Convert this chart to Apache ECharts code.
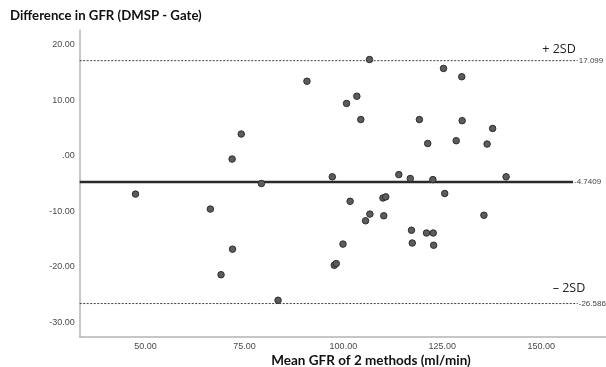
<!DOCTYPE html>
<html>
<head>
<meta charset="utf-8">
<script src="https://cdn.jsdelivr.net/npm/echarts@6/dist/echarts.min.js"></script>
<style>
html,body{margin:0;padding:0;background:#fff;overflow:hidden;}
#chart{width:630px;height:367px;}
</style>
</head>
<body>
<div id="chart"></div>
<script>
// Mean GFR of 2 methods (ml/min)
var meanGFR = [47.5, 66.4, 69.1, 71.9, 72.0, 74.2, 79.3, 83.5, 90.8, 97.2, 97.7, 98.2, 99.9, 100.8,
  101.7, 103.4, 104.4, 105.6, 106.6, 106.7, 110.0, 110.2, 110.7, 114.0, 116.9, 117.2, 117.4, 119.2,
  121.0, 121.3, 122.6, 122.7, 122.8, 125.3, 125.6, 128.5, 129.9, 130.0, 135.5, 136.3, 137.7, 141.1];
// Difference in GFR (DMSP - Gate)
var diffGFR = [-6.9, -9.6, -21.4, -0.6, -16.8, 3.9, -5.0, -26.0, 13.4, -3.8, -19.7, -19.4, -15.9, 9.4,
  -8.2, 10.7, 6.5, -11.7, 17.3, -10.5, -7.6, -10.8, -7.4, -3.4, -4.1, -13.4, -15.7, 6.5,
  -13.9, 2.2, -4.3, -13.9, -16.1, 15.7, -6.8, 2.7, 14.2, 6.3, -10.7, 2.1, 4.9, -3.8];
var meanDiff = -4.7409;
var upperLimit = 17.099;
var lowerLimit = -26.586;
var upperLabel = '17.099', meanLabel = '-4.7409', lowerLabel = '-26.586';
var xTicks = [50, 75, 100, 125, 150];
var yTicks = [-30, -20, -10, 0, 10, 20];

var xMin = 33.4, xMax = 168.86, yMin = -32.55, yMax = 22.61;
var lineStart = 33.4, dashEnd = 159.2, meanEnd = 158.0;

var pts = meanGFR.map(function (v, i) { return [v, diffGFR[i]]; });

function fmt(v) {
  if (v === 0) return '.00';
  return v.toFixed(2);
}

var chart = echarts.init(document.getElementById('chart'), null, {renderer: 'canvas'});
var refLabel = {show: true, fontSize: 8, color: '#444', fontFamily: 'Liberation Sans', distance: 1};

chart.setOption({
  animation: false,
  backgroundColor: '#fff',
  grid: {left: 79.7, right: 14, top: 30, bottom: 30.3, containLabel: false},
  xAxis: {
    type: 'value', min: xMin, max: xMax,
    splitLine: {show: false},
    axisTick: {show: false},
    axisLine: {show: true, onZero: false, lineStyle: {color: '#b4b4b4', width: 1.5}},
    axisLabel: {customValues: xTicks, formatter: fmt, fontSize: 9, color: '#4a4a4a',
      fontFamily: 'Liberation Sans', margin: 5}
  },
  yAxis: {
    type: 'value', min: yMin, max: yMax,
    splitLine: {show: false},
    axisTick: {show: false},
    axisLine: {show: true, onZero: false, lineStyle: {color: '#b4b4b4', width: 1.5}},
    axisLabel: {customValues: yTicks, formatter: fmt, fontSize: 9, color: '#4a4a4a',
      fontFamily: 'Liberation Sans', margin: 5}
  },
  series: [
    {
      type: 'line', data: [[lineStart, upperLimit], [dashEnd, upperLimit]],
      symbol: 'none', silent: true,
      lineStyle: {color: '#444', width: 1, type: [2, 1.5]},
      endLabel: Object.assign({formatter: upperLabel}, refLabel)
    },
    {
      type: 'line', data: [[lineStart, lowerLimit], [dashEnd, lowerLimit]],
      symbol: 'none', silent: true,
      lineStyle: {color: '#444', width: 1, type: [2, 1.5]},
      endLabel: Object.assign({formatter: lowerLabel}, refLabel)
    },
    {
      type: 'line', data: [[lineStart, meanDiff], [meanEnd, meanDiff]],
      symbol: 'none', silent: true,
      lineStyle: {color: '#2a2a2a', width: 2.5},
      endLabel: Object.assign({formatter: meanLabel}, refLabel)
    },
    {
      type: 'scatter', data: pts, symbol: 'circle', symbolSize: 6.5,
      itemStyle: {color: '#5c5c5c', borderColor: '#2e2e2e', borderWidth: 1, opacity: 1},
      z: 5
    }
  ],
  graphic: [
    {type: 'text', left: 10, top: 9,
      style: {text: 'Difference in GFR (DMSP - Gate)', font: 'bold 13.2px Lato', fill: '#111'}},
    {type: 'text', x: 371, y: 361,
      style: {text: 'Mean GFR of 2 methods (ml/min)', font: 'bold 13.5px Lato', fill: '#111',
        align: 'center', verticalAlign: 'middle'}},
    {type: 'text', x: 559, y: 49,
      style: {text: '+ 2SD', font: '12.5px "Open Sans"', fill: '#222', align: 'center', verticalAlign: 'middle'}},
    {type: 'text', x: 569, y: 288,
      style: {text: '\u2013 2SD', font: '12.5px "Open Sans"', fill: '#222', align: 'center', verticalAlign: 'middle'}}
  ]
});
</script>
</body>
</html>
